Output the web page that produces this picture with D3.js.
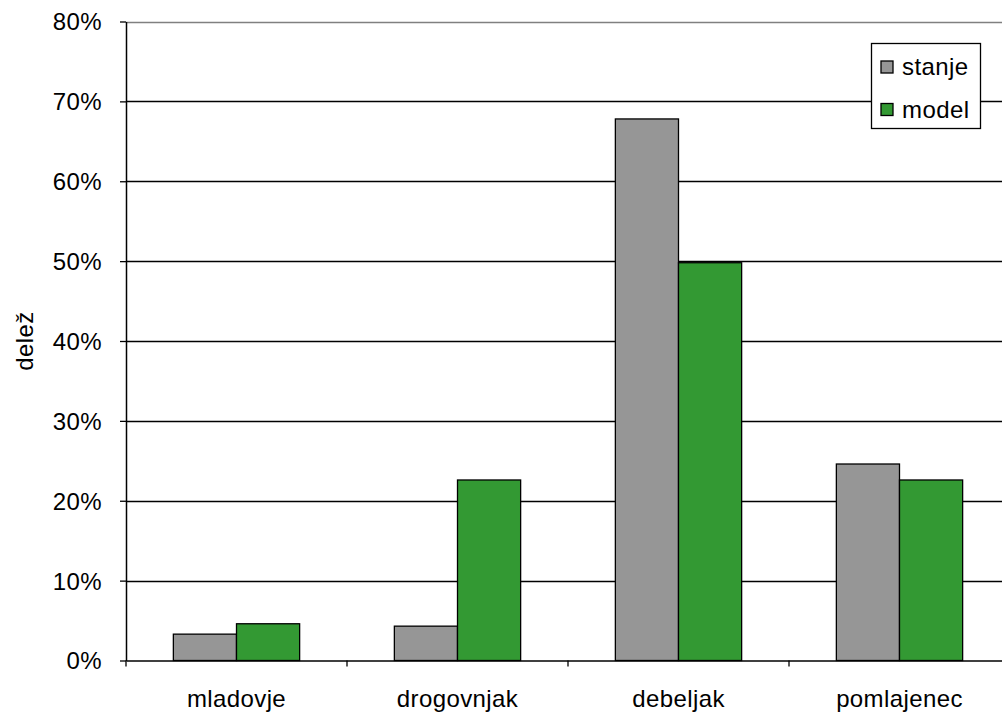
<!DOCTYPE html>
<html><head><meta charset="utf-8">
<script src="https://cdn.jsdelivr.net/npm/d3@7"></script>
<style>body{margin:0;background:#fff}svg{display:block}text{font-family:"Liberation Sans",Arial,sans-serif;letter-spacing:0.4px}</style>
</head><body><svg id="c" width="1002" height="713"></svg>
<script>
const categories = ["mladovje","drogovnjak","debeljak","pomlajenec"];
const seriesNames = ["stanje","model"];
const stanje = [0.033, 0.043, 0.678, 0.246];
const model = [0.046, 0.226, 0.498, 0.226];
const colors = ["#969696","#339933"];
const yTicks = [0,0.1,0.2,0.3,0.4,0.5,0.6,0.7,0.8];

const FS = 24;
const svg = d3.select("#c");
const L=126, T=21.5, R=1010, B=660.5;
const x = d3.scaleBand().domain(categories).range([L,R]).paddingInner(0).paddingOuter(0);
const y = d3.scaleLinear().domain([0,0.8]).range([B,T]);
const bw = x.bandwidth()/(2+1.5);
const gap = x.bandwidth()-2*bw;

// gridlines
svg.append("g").selectAll("line").data(yTicks.filter(d=>d>0)).join("line")
  .attr("x1",L).attr("x2",R).attr("y1",d=>Math.round(y(d))+0.5).attr("y2",d=>Math.round(y(d))+0.5)
  .attr("stroke",d=>d===0.8?"#808080":"#000").attr("stroke-width",1.3);

// bars
const data = categories.map((c,i)=>({c, vals:[stanje[i],model[i]]}));
const g = svg.append("g");
data.forEach(d=>{
  d.vals.forEach((v,j)=>{
    g.append("rect").attr("x",x(d.c)+gap/2+j*bw).attr("y",y(v)).attr("width",bw).attr("height",y(0)-y(v))
     .attr("fill",colors[j]).attr("stroke","#000").attr("stroke-width",1.3);
  });
});

// y axis
const ya = svg.append("g").attr("transform",`translate(${L},0)`)
  .call(d3.axisLeft(y).tickValues(yTicks).tickFormat(d3.format(".0%")).tickSize(6).tickSizeOuter(0));
ya.select(".domain").attr("stroke","#000").attr("stroke-width",1.5);
ya.selectAll(".tick line").attr("stroke","#000").attr("stroke-width",1.3);
ya.selectAll("text").attr("font-size",FS).attr("fill","#000").attr("x",-24).attr("dy","0.35em");

// x axis
const xa = svg.append("g").attr("transform",`translate(0,${B})`)
  .call(d3.axisBottom(x).tickSize(0).tickSizeOuter(0));
xa.select(".domain").attr("stroke","#000").attr("stroke-width",1.3);
xa.selectAll("text").attr("font-size",FS).attr("fill","#000").attr("y",46.5).attr("dy","0");
// category boundary ticks
svg.append("g").selectAll("line").data(categories.concat(["_end"])).join("line")
  .attr("x1",(d,i)=>L+i*x.step()).attr("x2",(d,i)=>L+i*x.step())
  .attr("y1",B).attr("y2",B+6).attr("stroke","#000").attr("stroke-width",1.3);

// y label
svg.append("text").attr("transform","translate(33,341) rotate(-90)").attr("text-anchor","middle")
  .attr("font-size",FS).text("delež");

// legend
const lg = svg.append("g");
lg.append("rect").attr("x",871.5).attr("y",43.5).attr("width",109).attr("height",85)
  .attr("fill","#fff").attr("stroke","#000").attr("stroke-width",1.3);
seriesNames.forEach((s,i)=>{
  const yy = 61+i*42.5;
  lg.append("rect").attr("x",881).attr("y",yy).attr("width",12).attr("height",12)
    .attr("fill",colors[i]).attr("stroke","#000").attr("stroke-width",1.3);
  lg.append("text").attr("x",902).attr("y",yy+14).attr("font-size",FS).text(s);
});
</script></body></html>
